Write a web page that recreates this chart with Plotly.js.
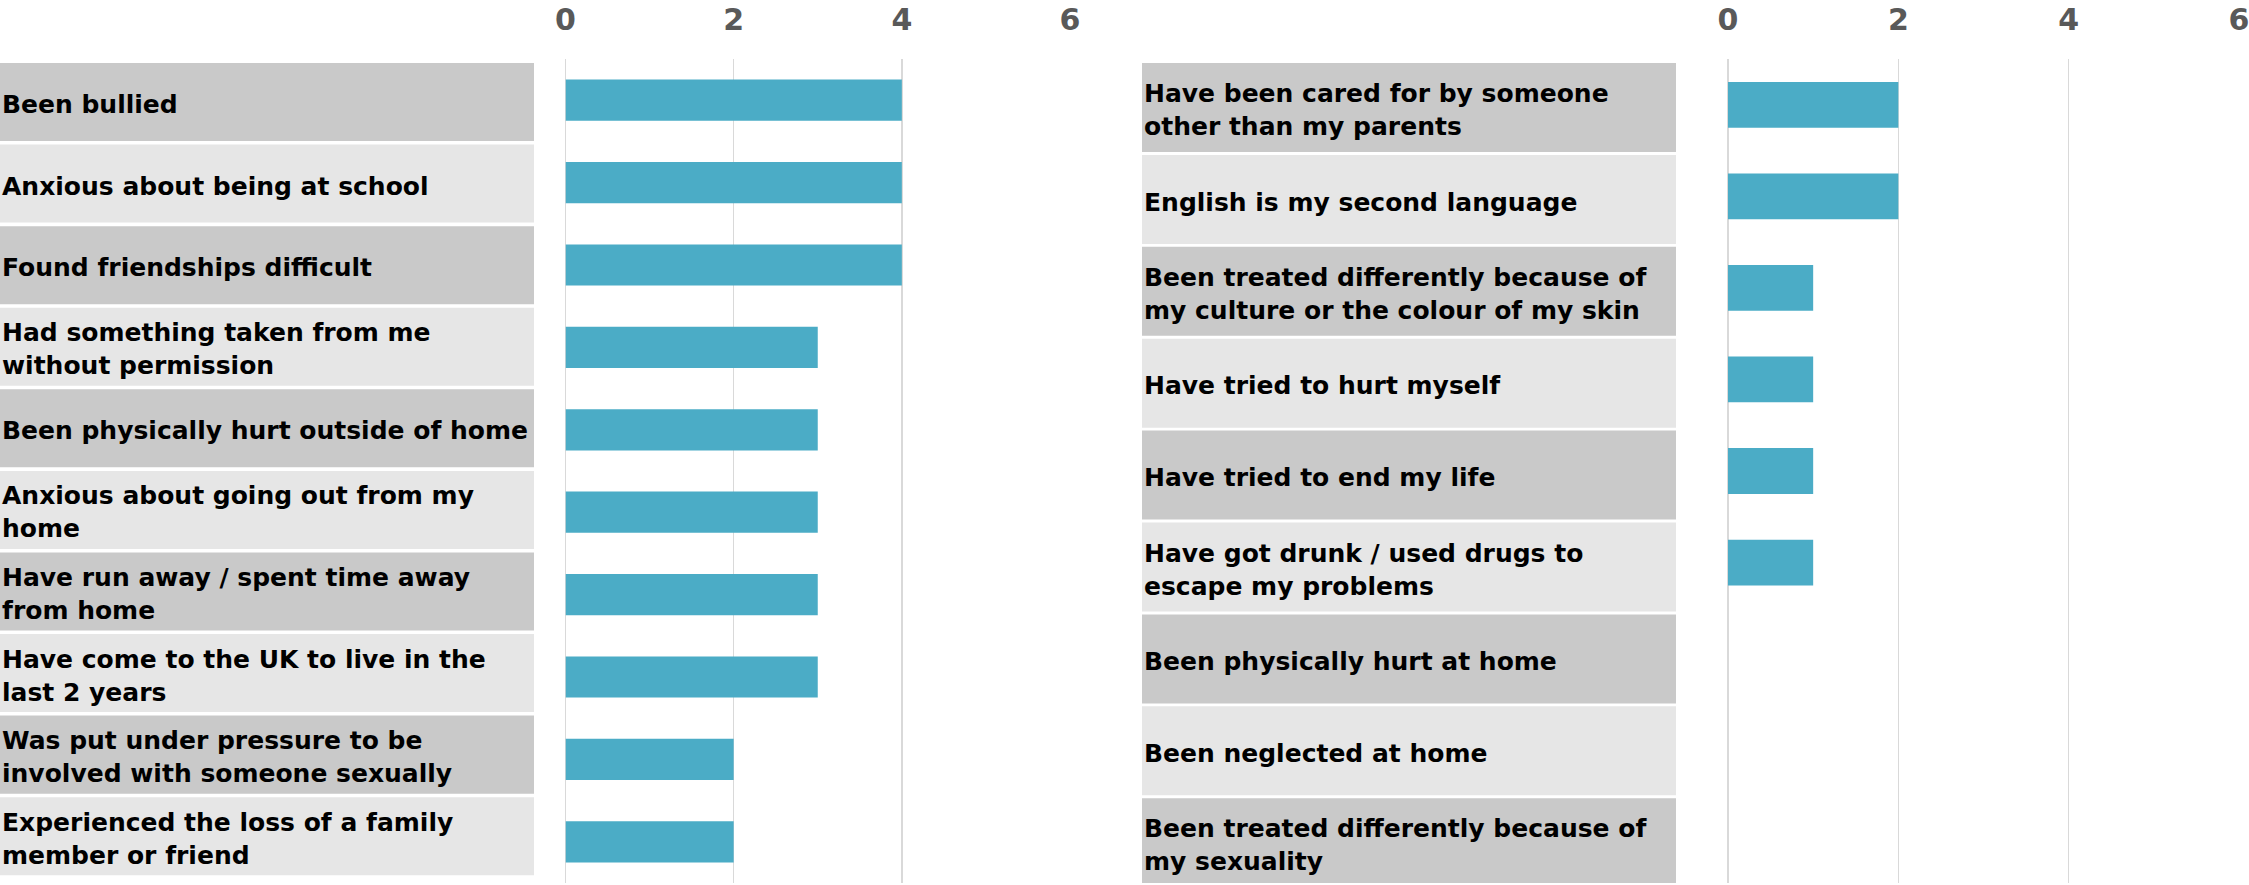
<!DOCTYPE html>
<html>
<head>
<meta charset="utf-8">
<script src="https://cdn.plot.ly/plotly-3.0.1.min.js"></script>
<style>html,body{margin:0;padding:0;background:#fff;}#chart{width:2249px;height:885px;}</style>
</head>
<body>
<div id="chart"></div>
<script>
// ---- data ----
const leftLabels = [
  "Been bullied",
  "Anxious about being at school",
  "Found friendships difficult",
  "Had something taken from me<br>without permission",
  "Been physically hurt outside of home",
  "Anxious about going out from my<br>home",
  "Have run away / spent time away<br>from home",
  "Have come to the UK to live in the<br>last 2 years",
  "Was put under pressure to be<br>involved with someone sexually",
  "Experienced the loss of a family<br>member or friend"
];
const leftValues = [4, 4, 4, 3, 3, 3, 3, 3, 2, 2];

const rightLabels = [
  "Have been cared for by someone<br>other than my parents",
  "English is my second language",
  "Been treated differently because of<br>my culture or the colour of my skin",
  "Have tried to hurt myself",
  "Have tried to end my life",
  "Have got drunk / used drugs to<br>escape my problems",
  "Been physically hurt at home",
  "Been neglected at home",
  "Been treated differently because of<br>my sexuality"
];
const rightValues = [2, 2, 1, 1, 1, 1, 0, 0, 0];

const tickValues = [0, 2, 4, 6];
const tickLabels = ["0", "2", "4", "6"];

// ---- style ----
const FONT = "'DejaVu Sans', Lato, sans-serif";
const BAR = "#4BACC6";
const DARK = "#C9C9C9", LIGHT = "#E6E6E6";
const W = 2249, H = 885;

const traces = [
  {type: "bar", orientation: "h", x: leftValues, y: leftLabels, xaxis: "x", yaxis: "y",
   width: 0.5, marker: {color: BAR, line: {width: 0}}, hoverinfo: "skip"},
  {type: "bar", orientation: "h", x: rightValues, y: rightLabels, xaxis: "x2", yaxis: "y2",
   width: 0.5, marker: {color: BAR, line: {width: 0}}, hoverinfo: "skip"}
];

const yDom = [1 - 883 / H, 1 - 59 / H];

function xAxis(dom) {
  return {
    domain: dom, range: [0, 6], side: "top", tickvals: tickValues, ticktext: tickLabels,
    showgrid: true, gridcolor: "#D9D9D9", gridwidth: 1.5,
    zeroline: true, zerolinecolor: "#D9D9D9", zerolinewidth: 1.5,
    showline: false, ticks: "", ticklabelstandoff: 22, ticklabeloverflow: "allow",
    tickfont: {family: FONT, size: 30, color: "#595959", weight: 700},
    fixedrange: true
  };
}
function yAxis(labels, anchor) {
  return {
    domain: yDom, anchor: anchor, type: "category", categoryarray: labels, categoryorder: "array",
    range: [labels.length - 0.5, -0.5], showticklabels: false, showgrid: false,
    zeroline: false, showline: false, ticks: "", fixedrange: true
  };
}

const shapes = [];
const annotations = [];
// label cells: start offset, pitch and height in category units of the matching axis
function addBoxes(labels, yref, x0, x1, start, pitch, height, textX) {
  labels.forEach((lab, i) => {
    const top = start + pitch * i;
    shapes.push({type: "rect", xref: "paper", yref: yref, x0: x0, x1: x1,
      y0: top, y1: top + height, fillcolor: i % 2 === 0 ? DARK : LIGHT,
      line: {width: 0}, layer: "below"});
    annotations.push({xref: "paper", yref: yref, x: textX, y: top + height / 2 + 0.03, text: lab,
      showarrow: false, xanchor: "left", yanchor: "middle", align: "left",
      font: {family: FONT, size: 25, color: "#000000", weight: 700}});
  });
}
addBoxes(leftLabels, "y", 0, 534 / W, -0.4515, 0.990, 0.947, 0);
addBoxes(rightLabels, "y2", 1142 / W, 1676 / W, -0.456, 1.0037, 0.972, 1142 / W);

const layout = {
  width: W, height: H, margin: {l: 0, r: 0, t: 0, b: 0},
  paper_bgcolor: "#FFFFFF", plot_bgcolor: "#FFFFFF", showlegend: false,
  bargap: 0.5,
  xaxis: xAxis([565.5 / W, 1070 / W]),
  yaxis: yAxis(leftLabels, "x"),
  xaxis2: xAxis([1728 / W, 2239 / W]),
  yaxis2: yAxis(rightLabels, "x2"),
  shapes: shapes, annotations: annotations
};

Plotly.newPlot("chart", traces, layout, {staticPlot: true, displayModeBar: false});
</script>
</body>
</html>
